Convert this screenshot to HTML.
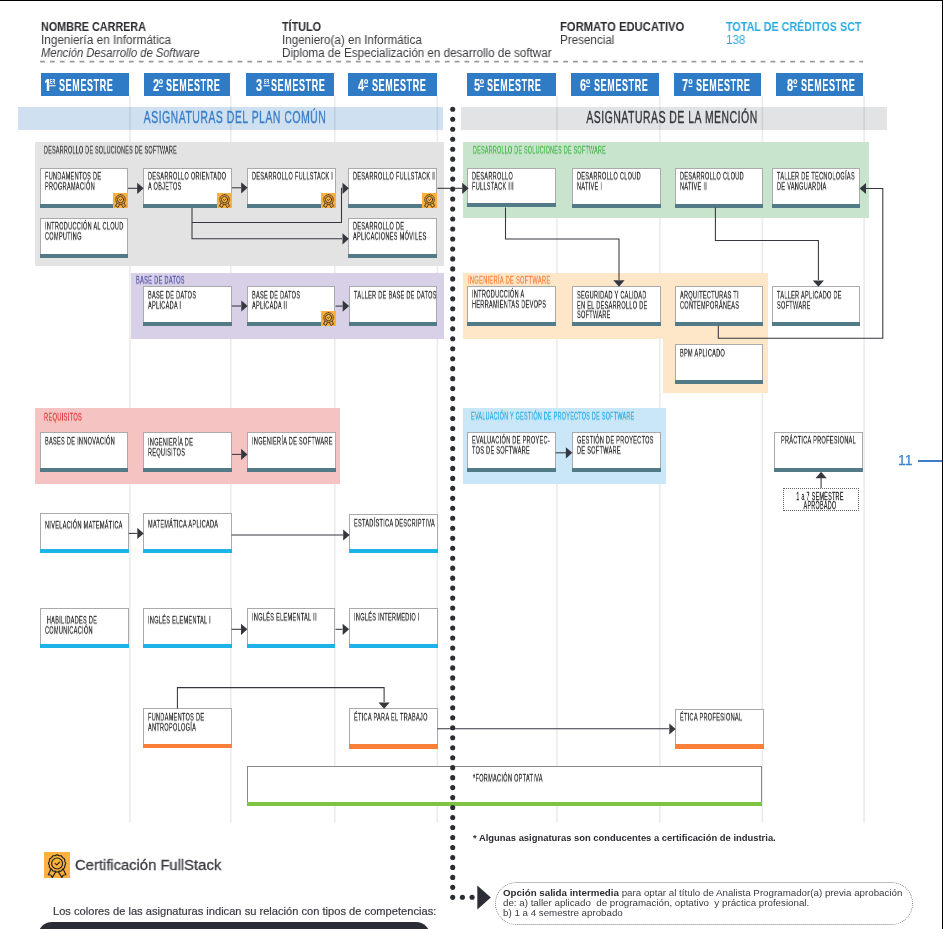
<!DOCTYPE html><html><head><meta charset="utf-8"><style>
html,body{margin:0;padding:0}
body{width:943px;height:929px;position:relative;overflow:hidden;background:#fff;font-family:"Liberation Sans",sans-serif}
.a{position:absolute}
.t{position:absolute;white-space:nowrap;transform-origin:0 0;will-change:transform}
.bx{box-sizing:border-box;border:1px solid #a3a5a8;background:#fff}
</style></head><body>
<div class="t" style="left:40.6px;top:20.14px;font-size:12px;line-height:14.4px;color:#2b2b30;font-weight:700;transform:scale(0.9,1.0);">NOMBRE CARRERA</div>
<div class="t" style="left:40.8px;top:33.14px;font-size:12px;line-height:14.4px;color:#3a3a3f;font-weight:400;transform:scale(0.98,1.0);">Ingeniería en Informática</div>
<div class="t" style="left:40.8px;top:46.14px;font-size:12px;line-height:14.4px;color:#3a3a3f;font-weight:400;transform:scale(0.93,1.0);font-style:italic;">Mención Desarrollo de Software</div>
<div class="t" style="left:282.1px;top:20.14px;font-size:12px;line-height:14.4px;color:#2b2b30;font-weight:700;transform:scale(0.9,1.0);">TÍTULO</div>
<div class="t" style="left:281.8px;top:33.14px;font-size:12px;line-height:14.4px;color:#3a3a3f;font-weight:400;transform:scale(0.97,1.0);">Ingeniero(a) en Informática</div>
<div class="t" style="left:281.8px;top:46.14px;font-size:12px;line-height:14.4px;color:#3a3a3f;font-weight:400;transform:scale(0.969,1.0);">Diploma de Especialización en desarrollo de softwar</div>
<div class="t" style="left:559.8px;top:20.14px;font-size:12px;line-height:14.4px;color:#2b2b30;font-weight:700;transform:scale(0.937,1.0);">FORMATO EDUCATIVO</div>
<div class="t" style="left:559.8px;top:33.14px;font-size:12px;line-height:14.4px;color:#3a3a3f;font-weight:400;transform:scale(0.97,1.0);">Presencial</div>
<div class="t" style="left:726.3px;top:20.14px;font-size:12px;line-height:14.4px;color:#29abe2;font-weight:700;transform:scale(0.896,1.0);">TOTAL DE CRÉDITOS SCT</div>
<div class="t" style="left:726.3px;top:33.14px;font-size:12px;line-height:14.4px;color:#29abe2;font-weight:400;transform:scale(0.97,1.0);">138</div>
<svg class="a" style="left:0;top:0" width="943" height="70"><line x1="40.1" y1="61.6" x2="863" y2="61.6" stroke="#9a9a9a" stroke-width="1.8" stroke-dasharray="4.8 5.07"/></svg>
<div class="a" style="left:41px;top:73.2px;width:88px;height:22.4px;background:#2f7bc5;"></div>
<div class="a" style="left:143.6px;top:73.2px;width:86.6px;height:22.4px;background:#2f7bc5;"></div>
<div class="a" style="left:246.3px;top:73.2px;width:87.5px;height:22.4px;background:#2f7bc5;"></div>
<div class="a" style="left:348.3px;top:73.2px;width:88.7px;height:22.4px;background:#2f7bc5;"></div>
<div class="a" style="left:467px;top:73.2px;width:89.2px;height:22.4px;background:#2f7bc5;"></div>
<div class="a" style="left:571.1px;top:73.2px;width:87.7px;height:22.4px;background:#2f7bc5;"></div>
<div class="a" style="left:674px;top:73.2px;width:87px;height:22.4px;background:#2f7bc5;"></div>
<div class="a" style="left:776.3px;top:73.2px;width:86.8px;height:22.4px;background:#2f7bc5;"></div>
<div class="a" style="left:18px;top:107px;width:425px;height:23px;background:#cfe0f0;"></div>
<div class="a" style="left:461px;top:107px;width:425.5px;height:23px;background:#e1e3e4;"></div>
<div class="t" style="left:34.69999999999999px;top:107.43px;width:400px;text-align:center;font-size:17.4px;line-height:20.88px;color:#3b7fc8;font-weight:400;transform:scaleX(0.6);transform-origin:50% 0;letter-spacing:0.85px;-webkit-text-stroke:0.4px #3b7fc8;">ASIGNATURAS DEL PLAN COMÚN</div>
<div class="t" style="left:472.29999999999995px;top:107.43px;width:400px;text-align:center;font-size:17.4px;line-height:20.88px;color:#36383d;font-weight:400;transform:scaleX(0.6);transform-origin:50% 0;letter-spacing:0.85px;-webkit-text-stroke:0.4px #36383d;">ASIGNATURAS DE LA MENCIÓN</div>
<svg class="a" style="left:0;top:0" width="943" height="929"><g stroke="#000" stroke-opacity="0.075" stroke-width="1.7"><line x1="129.9" y1="95.5" x2="129.9" y2="822.7"/><line x1="230.8" y1="95.5" x2="230.8" y2="822.7"/><line x1="334.8" y1="95.5" x2="334.8" y2="822.7"/><line x1="437.4" y1="95.5" x2="437.4" y2="822.7"/><line x1="556.9" y1="95.5" x2="556.9" y2="822.7"/><line x1="659.8" y1="95.5" x2="659.8" y2="822.7"/><line x1="762.3" y1="95.5" x2="762.3" y2="822.7"/><line x1="864.1" y1="95.5" x2="864.1" y2="822.7"/></g></svg>
<div class="a" style="left:35px;top:142.2px;width:408.7px;height:124px;background:#e3e3e3;"></div>
<div class="a" style="left:463px;top:142.2px;width:405.5px;height:75.8px;background:#c8e4cd;"></div>
<div class="a" style="left:130.5px;top:273px;width:313.2px;height:65.6px;background:#d8d0e6;"></div>
<div class="a" style="left:463px;top:273px;width:305.3px;height:65.6px;background:#fee6c8;"></div>
<div class="a" style="left:663px;top:338.6px;width:105.3px;height:54.4px;background:#fee6c8;"></div>
<div class="a" style="left:35px;top:407.6px;width:305px;height:76.2px;background:#f5c4c2;"></div>
<div class="a" style="left:463px;top:407.6px;width:202.8px;height:76.2px;background:#c9e7f7;"></div>
<div class="t" style="left:59.0px;top:76.09px;font-size:16.6px;line-height:19.92px;color:#fff;font-weight:700;transform:scale(0.546,1.0);letter-spacing:1.05px;-webkit-text-stroke:0.15px #fff;">SEMESTRE</div>
<div class="t" style="left:50.1px;top:77.60px;font-size:7.4px;line-height:8.88px;color:#fff;font-weight:700;transform:scale(0.48,1.0);letter-spacing:0.3px;">ER</div>
<div class="t" style="left:152.6px;top:76.09px;font-size:16.6px;line-height:19.92px;color:#fff;font-weight:700;transform:scale(0.66,1.0);letter-spacing:1.05px;-webkit-text-stroke:0.15px #fff;">2</div>
<div class="t" style="left:166.3px;top:76.09px;font-size:16.6px;line-height:19.92px;color:#fff;font-weight:700;transform:scale(0.546,1.0);letter-spacing:1.05px;-webkit-text-stroke:0.15px #fff;">SEMESTRE</div>
<div class="t" style="left:255.9px;top:76.09px;font-size:16.6px;line-height:19.92px;color:#fff;font-weight:700;transform:scale(0.66,1.0);letter-spacing:1.05px;-webkit-text-stroke:0.15px #fff;">3</div>
<div class="t" style="left:271.40000000000003px;top:76.09px;font-size:16.6px;line-height:19.92px;color:#fff;font-weight:700;transform:scale(0.546,1.0);letter-spacing:1.05px;-webkit-text-stroke:0.15px #fff;">SEMESTRE</div>
<div class="t" style="left:264.2px;top:77.60px;font-size:7.4px;line-height:8.88px;color:#fff;font-weight:700;transform:scale(0.48,1.0);letter-spacing:0.3px;">ER</div>
<div class="t" style="left:357.79999999999995px;top:76.09px;font-size:16.6px;line-height:19.92px;color:#fff;font-weight:700;transform:scale(0.66,1.0);letter-spacing:1.05px;-webkit-text-stroke:0.15px #fff;">4</div>
<div class="t" style="left:372.1px;top:76.09px;font-size:16.6px;line-height:19.92px;color:#fff;font-weight:700;transform:scale(0.546,1.0);letter-spacing:1.05px;-webkit-text-stroke:0.15px #fff;">SEMESTRE</div>
<div class="t" style="left:473.59999999999997px;top:76.09px;font-size:16.6px;line-height:19.92px;color:#fff;font-weight:700;transform:scale(0.66,1.0);letter-spacing:1.05px;-webkit-text-stroke:0.15px #fff;">5</div>
<div class="t" style="left:487.40000000000003px;top:76.09px;font-size:16.6px;line-height:19.92px;color:#fff;font-weight:700;transform:scale(0.546,1.0);letter-spacing:1.05px;-webkit-text-stroke:0.15px #fff;">SEMESTRE</div>
<div class="t" style="left:579.8px;top:76.09px;font-size:16.6px;line-height:19.92px;color:#fff;font-weight:700;transform:scale(0.66,1.0);letter-spacing:1.05px;-webkit-text-stroke:0.15px #fff;">6</div>
<div class="t" style="left:593.8px;top:76.09px;font-size:16.6px;line-height:19.92px;color:#fff;font-weight:700;transform:scale(0.546,1.0);letter-spacing:1.05px;-webkit-text-stroke:0.15px #fff;">SEMESTRE</div>
<div class="t" style="left:682.1999999999999px;top:76.09px;font-size:16.6px;line-height:19.92px;color:#fff;font-weight:700;transform:scale(0.66,1.0);letter-spacing:1.05px;-webkit-text-stroke:0.15px #fff;">7</div>
<div class="t" style="left:695.8px;top:76.09px;font-size:16.6px;line-height:19.92px;color:#fff;font-weight:700;transform:scale(0.546,1.0);letter-spacing:1.05px;-webkit-text-stroke:0.15px #fff;">SEMESTRE</div>
<div class="t" style="left:787.0px;top:76.09px;font-size:16.6px;line-height:19.92px;color:#fff;font-weight:700;transform:scale(0.66,1.0);letter-spacing:1.05px;-webkit-text-stroke:0.15px #fff;">8</div>
<div class="t" style="left:800.8px;top:76.09px;font-size:16.6px;line-height:19.92px;color:#fff;font-weight:700;transform:scale(0.546,1.0);letter-spacing:1.05px;-webkit-text-stroke:0.15px #fff;">SEMESTRE</div>
<svg class="a" style="left:0;top:0" width="943" height="100"><path d="M44.9 81.3L47.0 79H49.199999999999996V90.9H46.8V82L45.6 83.2Z" fill="#fff"/><rect x="49.4" y="85.2" width="6.2" height="1.1" fill="#fff"/><ellipse cx="160.89999999999998" cy="81.5" rx="1.45" ry="1.95" fill="none" stroke="#fff" stroke-width="1.2"/><rect x="158.99999999999997" y="85.8" width="3.8" height="1.25" fill="#fff"/><rect x="263.5" y="85.2" width="6.2" height="1.1" fill="#fff"/><ellipse cx="366.09999999999997" cy="81.5" rx="1.45" ry="1.95" fill="none" stroke="#fff" stroke-width="1.2"/><rect x="364.2" y="85.8" width="3.8" height="1.25" fill="#fff"/><ellipse cx="481.9" cy="81.5" rx="1.45" ry="1.95" fill="none" stroke="#fff" stroke-width="1.2"/><rect x="480.0" y="85.8" width="3.8" height="1.25" fill="#fff"/><ellipse cx="588.1" cy="81.5" rx="1.45" ry="1.95" fill="none" stroke="#fff" stroke-width="1.2"/><rect x="586.2" y="85.8" width="3.8" height="1.25" fill="#fff"/><ellipse cx="690.5" cy="81.5" rx="1.45" ry="1.95" fill="none" stroke="#fff" stroke-width="1.2"/><rect x="688.6" y="85.8" width="3.8" height="1.25" fill="#fff"/><ellipse cx="795.3000000000001" cy="81.5" rx="1.45" ry="1.95" fill="none" stroke="#fff" stroke-width="1.2"/><rect x="793.4000000000001" y="85.8" width="3.8" height="1.25" fill="#fff"/></svg>
<div class="t" style="left:44.4px;top:144.27px;font-size:10.6px;line-height:12.72px;color:#3a3a3a;font-weight:400;transform:scale(0.503,0.95);letter-spacing:0.6px;-webkit-text-stroke:0.3px #3a3a3a;">DESARROLLO DE SOLUCIONES DE SOFTWARE</div>
<div class="t" style="left:472.5px;top:144.27px;font-size:10.6px;line-height:12.72px;color:#46b649;font-weight:400;transform:scale(0.503,0.95);letter-spacing:0.6px;-webkit-text-stroke:0.3px #46b649;">DESARROLLO DE SOLUCIONES DE SOFTWARE</div>
<div class="t" style="left:136px;top:274.47px;font-size:10.6px;line-height:12.72px;color:#5152a6;font-weight:400;transform:scale(0.53,0.95);letter-spacing:0.6px;-webkit-text-stroke:0.3px #5152a6;">BASE DE DATOS</div>
<div class="t" style="left:468.4px;top:274.47px;font-size:10.6px;line-height:12.72px;color:#f5813f;font-weight:400;transform:scale(0.535,0.95);letter-spacing:0.6px;-webkit-text-stroke:0.3px #f5813f;">INGENIERÍA DE SOFTWARE</div>
<div class="t" style="left:44.3px;top:410.87px;font-size:10.6px;line-height:12.72px;color:#e3373a;font-weight:400;transform:scale(0.535,0.95);letter-spacing:0.6px;-webkit-text-stroke:0.3px #e3373a;">REQUISITOS</div>
<div class="t" style="left:470.7px;top:410.37px;font-size:10.6px;line-height:12.72px;color:#27aae1;font-weight:400;transform:scale(0.508,0.95);letter-spacing:0.6px;-webkit-text-stroke:0.3px #27aae1;">EVALUACIÓN Y GESTIÓN DE PROYECTOS DE SOFTWARE</div>
<div class="a bx" style="left:39.5px;top:168px;width:88.5px;height:40px;border-color:#a8aaad"></div>
<div class="a" style="left:39.5px;top:204px;width:88.5px;height:4px;background:#527b87;"></div>
<div class="t" style="left:44.5px;top:172.30px;font-size:10px;line-height:10.7px;color:#2a2a2a;font-weight:400;transform:scale(0.552,0.93);letter-spacing:0.6px;-webkit-text-stroke:0.3px #2a2a2a;">FUNDAMENTOS DE<br>PROGRAMACIÓN</div>
<svg class="a" style="left:113.0px;top:193px" width="15" height="15" viewBox="0 0 26 26"><rect width="26" height="26" fill="#fbb040"/><g fill="none" stroke="#1d1d1b" stroke-width="1.35" stroke-linejoin="round" stroke-linecap="round"><path d="M13.10,2.82 L13.69,2.93 L14.25,3.21 L14.78,3.50 L15.31,3.68 L15.89,3.73 L16.51,3.74 L17.12,3.85 L17.63,4.14 L18.03,4.62 L18.35,5.15 L18.68,5.63 L19.10,6.00 L19.62,6.31 L20.14,6.65 L20.53,7.11 L20.73,7.68 L20.77,8.30 L20.78,8.91 L20.89,9.46 L21.14,9.98 L21.44,10.52 L21.65,11.10 L21.65,11.70 L21.44,12.28 L21.14,12.82 L20.89,13.34 L20.78,13.89 L20.77,14.50 L20.73,15.12 L20.53,15.69 L20.14,16.15 L19.62,16.49 L19.10,16.80 L18.68,17.17 L18.35,17.65 L18.03,18.18 L17.63,18.66 L17.12,18.95 L16.51,19.06 L15.89,19.07 L15.31,19.12 L14.78,19.30 L14.25,19.59 L13.69,19.87 L13.10,19.98 L12.51,19.87 L11.95,19.59 L11.42,19.30 L10.89,19.12 L10.31,19.07 L9.69,19.06 L9.08,18.95 L8.57,18.66 L8.17,18.18 L7.85,17.65 L7.52,17.17 L7.10,16.80 L6.58,16.49 L6.06,16.15 L5.67,15.69 L5.47,15.12 L5.43,14.50 L5.42,13.89 L5.31,13.34 L5.06,12.82 L4.76,12.28 L4.55,11.70 L4.55,11.10 L4.76,10.52 L5.06,9.98 L5.31,9.46 L5.42,8.91 L5.43,8.30 L5.47,7.68 L5.67,7.11 L6.06,6.65 L6.58,6.31 L7.10,6.00 L7.52,5.63 L7.85,5.15 L8.17,4.62 L8.57,4.14 L9.08,3.85 L9.69,3.74 L10.31,3.73 L10.89,3.68 L11.42,3.50 L11.95,3.21 L12.51,2.93Z"/><circle cx="13.1" cy="11.5" r="5.5"/><path d="M11.2 11.6l1.55 1.3 2.85-2.8"/><path d="M6.8 17.6L4.3 22.7L6.7 23L8.3 25.4L11.6 20.1"/><path d="M19.4 17.6L21.9 22.7L19.5 23L17.9 25.4L14.6 20.1"/></g></svg>
<div class="a bx" style="left:143px;top:167.6px;width:89px;height:40.2px;border-color:#a8aaad"></div>
<div class="a" style="left:143px;top:203.8px;width:89px;height:4px;background:#527b87;"></div>
<div class="t" style="left:148px;top:171.90px;font-size:10px;line-height:10.7px;color:#2a2a2a;font-weight:400;transform:scale(0.552,0.93);letter-spacing:0.6px;-webkit-text-stroke:0.3px #2a2a2a;">DESARROLLO ORIENTADO<br>A OBJETOS</div>
<svg class="a" style="left:217px;top:192.8px" width="15" height="15" viewBox="0 0 26 26"><rect width="26" height="26" fill="#fbb040"/><g fill="none" stroke="#1d1d1b" stroke-width="1.35" stroke-linejoin="round" stroke-linecap="round"><path d="M13.10,2.82 L13.69,2.93 L14.25,3.21 L14.78,3.50 L15.31,3.68 L15.89,3.73 L16.51,3.74 L17.12,3.85 L17.63,4.14 L18.03,4.62 L18.35,5.15 L18.68,5.63 L19.10,6.00 L19.62,6.31 L20.14,6.65 L20.53,7.11 L20.73,7.68 L20.77,8.30 L20.78,8.91 L20.89,9.46 L21.14,9.98 L21.44,10.52 L21.65,11.10 L21.65,11.70 L21.44,12.28 L21.14,12.82 L20.89,13.34 L20.78,13.89 L20.77,14.50 L20.73,15.12 L20.53,15.69 L20.14,16.15 L19.62,16.49 L19.10,16.80 L18.68,17.17 L18.35,17.65 L18.03,18.18 L17.63,18.66 L17.12,18.95 L16.51,19.06 L15.89,19.07 L15.31,19.12 L14.78,19.30 L14.25,19.59 L13.69,19.87 L13.10,19.98 L12.51,19.87 L11.95,19.59 L11.42,19.30 L10.89,19.12 L10.31,19.07 L9.69,19.06 L9.08,18.95 L8.57,18.66 L8.17,18.18 L7.85,17.65 L7.52,17.17 L7.10,16.80 L6.58,16.49 L6.06,16.15 L5.67,15.69 L5.47,15.12 L5.43,14.50 L5.42,13.89 L5.31,13.34 L5.06,12.82 L4.76,12.28 L4.55,11.70 L4.55,11.10 L4.76,10.52 L5.06,9.98 L5.31,9.46 L5.42,8.91 L5.43,8.30 L5.47,7.68 L5.67,7.11 L6.06,6.65 L6.58,6.31 L7.10,6.00 L7.52,5.63 L7.85,5.15 L8.17,4.62 L8.57,4.14 L9.08,3.85 L9.69,3.74 L10.31,3.73 L10.89,3.68 L11.42,3.50 L11.95,3.21 L12.51,2.93Z"/><circle cx="13.1" cy="11.5" r="5.5"/><path d="M11.2 11.6l1.55 1.3 2.85-2.8"/><path d="M6.8 17.6L4.3 22.7L6.7 23L8.3 25.4L11.6 20.1"/><path d="M19.4 17.6L21.9 22.7L19.5 23L17.9 25.4L14.6 20.1"/></g></svg>
<div class="a bx" style="left:247px;top:167.6px;width:88.5px;height:40.2px;border-color:#a8aaad"></div>
<div class="a" style="left:247px;top:203.8px;width:88.5px;height:4px;background:#527b87;"></div>
<div class="t" style="left:252px;top:171.90px;font-size:10px;line-height:10.7px;color:#2a2a2a;font-weight:400;transform:scale(0.552,0.93);letter-spacing:0.6px;-webkit-text-stroke:0.3px #2a2a2a;">DESARROLLO FULLSTACK I</div>
<svg class="a" style="left:320.5px;top:192.8px" width="15" height="15" viewBox="0 0 26 26"><rect width="26" height="26" fill="#fbb040"/><g fill="none" stroke="#1d1d1b" stroke-width="1.35" stroke-linejoin="round" stroke-linecap="round"><path d="M13.10,2.82 L13.69,2.93 L14.25,3.21 L14.78,3.50 L15.31,3.68 L15.89,3.73 L16.51,3.74 L17.12,3.85 L17.63,4.14 L18.03,4.62 L18.35,5.15 L18.68,5.63 L19.10,6.00 L19.62,6.31 L20.14,6.65 L20.53,7.11 L20.73,7.68 L20.77,8.30 L20.78,8.91 L20.89,9.46 L21.14,9.98 L21.44,10.52 L21.65,11.10 L21.65,11.70 L21.44,12.28 L21.14,12.82 L20.89,13.34 L20.78,13.89 L20.77,14.50 L20.73,15.12 L20.53,15.69 L20.14,16.15 L19.62,16.49 L19.10,16.80 L18.68,17.17 L18.35,17.65 L18.03,18.18 L17.63,18.66 L17.12,18.95 L16.51,19.06 L15.89,19.07 L15.31,19.12 L14.78,19.30 L14.25,19.59 L13.69,19.87 L13.10,19.98 L12.51,19.87 L11.95,19.59 L11.42,19.30 L10.89,19.12 L10.31,19.07 L9.69,19.06 L9.08,18.95 L8.57,18.66 L8.17,18.18 L7.85,17.65 L7.52,17.17 L7.10,16.80 L6.58,16.49 L6.06,16.15 L5.67,15.69 L5.47,15.12 L5.43,14.50 L5.42,13.89 L5.31,13.34 L5.06,12.82 L4.76,12.28 L4.55,11.70 L4.55,11.10 L4.76,10.52 L5.06,9.98 L5.31,9.46 L5.42,8.91 L5.43,8.30 L5.47,7.68 L5.67,7.11 L6.06,6.65 L6.58,6.31 L7.10,6.00 L7.52,5.63 L7.85,5.15 L8.17,4.62 L8.57,4.14 L9.08,3.85 L9.69,3.74 L10.31,3.73 L10.89,3.68 L11.42,3.50 L11.95,3.21 L12.51,2.93Z"/><circle cx="13.1" cy="11.5" r="5.5"/><path d="M11.2 11.6l1.55 1.3 2.85-2.8"/><path d="M6.8 17.6L4.3 22.7L6.7 23L8.3 25.4L11.6 20.1"/><path d="M19.4 17.6L21.9 22.7L19.5 23L17.9 25.4L14.6 20.1"/></g></svg>
<div class="a bx" style="left:348.3px;top:167.6px;width:89.1px;height:40.2px;border-color:#a8aaad"></div>
<div class="a" style="left:348.3px;top:203.8px;width:89.1px;height:4px;background:#527b87;"></div>
<div class="t" style="left:353.3px;top:171.90px;font-size:10px;line-height:10.7px;color:#2a2a2a;font-weight:400;transform:scale(0.552,0.93);letter-spacing:0.6px;-webkit-text-stroke:0.3px #2a2a2a;">DESARROLLO FULLSTACK II</div>
<svg class="a" style="left:422.4px;top:192.8px" width="15" height="15" viewBox="0 0 26 26"><rect width="26" height="26" fill="#fbb040"/><g fill="none" stroke="#1d1d1b" stroke-width="1.35" stroke-linejoin="round" stroke-linecap="round"><path d="M13.10,2.82 L13.69,2.93 L14.25,3.21 L14.78,3.50 L15.31,3.68 L15.89,3.73 L16.51,3.74 L17.12,3.85 L17.63,4.14 L18.03,4.62 L18.35,5.15 L18.68,5.63 L19.10,6.00 L19.62,6.31 L20.14,6.65 L20.53,7.11 L20.73,7.68 L20.77,8.30 L20.78,8.91 L20.89,9.46 L21.14,9.98 L21.44,10.52 L21.65,11.10 L21.65,11.70 L21.44,12.28 L21.14,12.82 L20.89,13.34 L20.78,13.89 L20.77,14.50 L20.73,15.12 L20.53,15.69 L20.14,16.15 L19.62,16.49 L19.10,16.80 L18.68,17.17 L18.35,17.65 L18.03,18.18 L17.63,18.66 L17.12,18.95 L16.51,19.06 L15.89,19.07 L15.31,19.12 L14.78,19.30 L14.25,19.59 L13.69,19.87 L13.10,19.98 L12.51,19.87 L11.95,19.59 L11.42,19.30 L10.89,19.12 L10.31,19.07 L9.69,19.06 L9.08,18.95 L8.57,18.66 L8.17,18.18 L7.85,17.65 L7.52,17.17 L7.10,16.80 L6.58,16.49 L6.06,16.15 L5.67,15.69 L5.47,15.12 L5.43,14.50 L5.42,13.89 L5.31,13.34 L5.06,12.82 L4.76,12.28 L4.55,11.70 L4.55,11.10 L4.76,10.52 L5.06,9.98 L5.31,9.46 L5.42,8.91 L5.43,8.30 L5.47,7.68 L5.67,7.11 L6.06,6.65 L6.58,6.31 L7.10,6.00 L7.52,5.63 L7.85,5.15 L8.17,4.62 L8.57,4.14 L9.08,3.85 L9.69,3.74 L10.31,3.73 L10.89,3.68 L11.42,3.50 L11.95,3.21 L12.51,2.93Z"/><circle cx="13.1" cy="11.5" r="5.5"/><path d="M11.2 11.6l1.55 1.3 2.85-2.8"/><path d="M6.8 17.6L4.3 22.7L6.7 23L8.3 25.4L11.6 20.1"/><path d="M19.4 17.6L21.9 22.7L19.5 23L17.9 25.4L14.6 20.1"/></g></svg>
<div class="a bx" style="left:39.8px;top:217.6px;width:88.7px;height:40.3px;border-color:#a8aaad"></div>
<div class="a" style="left:39.8px;top:253.89999999999998px;width:88.7px;height:4px;background:#527b87;"></div>
<div class="t" style="left:44.8px;top:221.90px;font-size:10px;line-height:10.7px;color:#2a2a2a;font-weight:400;transform:scale(0.552,0.93);letter-spacing:0.6px;-webkit-text-stroke:0.3px #2a2a2a;">INTRODUCCIÓN AL CLOUD<br>COMPUTING</div>
<div class="a bx" style="left:348.3px;top:217.7px;width:89.2px;height:40px;border-color:#a8aaad"></div>
<div class="a" style="left:348.3px;top:253.7px;width:89.2px;height:4px;background:#527b87;"></div>
<div class="t" style="left:353.3px;top:222.00px;font-size:10px;line-height:10.7px;color:#2a2a2a;font-weight:400;transform:scale(0.552,0.93);letter-spacing:0.6px;-webkit-text-stroke:0.3px #2a2a2a;">DESARROLLO DE<br>APLICACIONES MÓVILES</div>
<div class="a bx" style="left:467.3px;top:167.5px;width:88.3px;height:39.8px;border-color:#a8aaad"></div>
<div class="a" style="left:467.3px;top:203.3px;width:88.3px;height:4px;background:#527b87;"></div>
<div class="t" style="left:472.3px;top:171.80px;font-size:10px;line-height:10.7px;color:#2a2a2a;font-weight:400;transform:scale(0.552,0.93);letter-spacing:0.6px;-webkit-text-stroke:0.3px #2a2a2a;">DESARROLLO<br>FULLSTACK III</div>
<div class="a bx" style="left:572.3px;top:167.8px;width:88.3px;height:39.7px;border-color:#a8aaad"></div>
<div class="a" style="left:572.3px;top:203.5px;width:88.3px;height:4px;background:#527b87;"></div>
<div class="t" style="left:577.3px;top:172.10px;font-size:10px;line-height:10.7px;color:#2a2a2a;font-weight:400;transform:scale(0.552,0.93);letter-spacing:0.6px;-webkit-text-stroke:0.3px #2a2a2a;">DESARROLLO CLOUD<br>NATIVE I</div>
<div class="a bx" style="left:675.4px;top:167.8px;width:88px;height:39.7px;border-color:#a8aaad"></div>
<div class="a" style="left:675.4px;top:203.5px;width:88px;height:4px;background:#527b87;"></div>
<div class="t" style="left:680.4px;top:172.10px;font-size:10px;line-height:10.7px;color:#2a2a2a;font-weight:400;transform:scale(0.552,0.93);letter-spacing:0.6px;-webkit-text-stroke:0.3px #2a2a2a;">DESARROLLO CLOUD<br>NATIVE II</div>
<div class="a bx" style="left:771.5px;top:167.8px;width:88.7px;height:39.7px;border-color:#a8aaad"></div>
<div class="a" style="left:771.5px;top:203.5px;width:88.7px;height:4px;background:#527b87;"></div>
<div class="t" style="left:776.5px;top:172.10px;font-size:10px;line-height:10.7px;color:#2a2a2a;font-weight:400;transform:scale(0.552,0.93);letter-spacing:0.6px;-webkit-text-stroke:0.3px #2a2a2a;">TALLER DE TECNOLOGÍAS<br>DE VANGUARDIA</div>
<div class="a bx" style="left:143.1px;top:286.3px;width:88.7px;height:39.5px;border-color:#a8aaad"></div>
<div class="a" style="left:143.1px;top:321.8px;width:88.7px;height:4px;background:#527b87;"></div>
<div class="t" style="left:148.1px;top:290.60px;font-size:10px;line-height:10.7px;color:#2a2a2a;font-weight:400;transform:scale(0.552,0.93);letter-spacing:0.6px;-webkit-text-stroke:0.3px #2a2a2a;">BASE DE DATOS<br>APLICADA I</div>
<div class="a bx" style="left:247.1px;top:286.3px;width:88.4px;height:39.5px;border-color:#a8aaad"></div>
<div class="a" style="left:247.1px;top:321.8px;width:88.4px;height:4px;background:#527b87;"></div>
<div class="t" style="left:252.1px;top:290.60px;font-size:10px;line-height:10.7px;color:#2a2a2a;font-weight:400;transform:scale(0.552,0.93);letter-spacing:0.6px;-webkit-text-stroke:0.3px #2a2a2a;">BASE DE DATOS<br>APLICADA II</div>
<svg class="a" style="left:320.5px;top:310.8px" width="15" height="15" viewBox="0 0 26 26"><rect width="26" height="26" fill="#fbb040"/><g fill="none" stroke="#1d1d1b" stroke-width="1.35" stroke-linejoin="round" stroke-linecap="round"><path d="M13.10,2.82 L13.69,2.93 L14.25,3.21 L14.78,3.50 L15.31,3.68 L15.89,3.73 L16.51,3.74 L17.12,3.85 L17.63,4.14 L18.03,4.62 L18.35,5.15 L18.68,5.63 L19.10,6.00 L19.62,6.31 L20.14,6.65 L20.53,7.11 L20.73,7.68 L20.77,8.30 L20.78,8.91 L20.89,9.46 L21.14,9.98 L21.44,10.52 L21.65,11.10 L21.65,11.70 L21.44,12.28 L21.14,12.82 L20.89,13.34 L20.78,13.89 L20.77,14.50 L20.73,15.12 L20.53,15.69 L20.14,16.15 L19.62,16.49 L19.10,16.80 L18.68,17.17 L18.35,17.65 L18.03,18.18 L17.63,18.66 L17.12,18.95 L16.51,19.06 L15.89,19.07 L15.31,19.12 L14.78,19.30 L14.25,19.59 L13.69,19.87 L13.10,19.98 L12.51,19.87 L11.95,19.59 L11.42,19.30 L10.89,19.12 L10.31,19.07 L9.69,19.06 L9.08,18.95 L8.57,18.66 L8.17,18.18 L7.85,17.65 L7.52,17.17 L7.10,16.80 L6.58,16.49 L6.06,16.15 L5.67,15.69 L5.47,15.12 L5.43,14.50 L5.42,13.89 L5.31,13.34 L5.06,12.82 L4.76,12.28 L4.55,11.70 L4.55,11.10 L4.76,10.52 L5.06,9.98 L5.31,9.46 L5.42,8.91 L5.43,8.30 L5.47,7.68 L5.67,7.11 L6.06,6.65 L6.58,6.31 L7.10,6.00 L7.52,5.63 L7.85,5.15 L8.17,4.62 L8.57,4.14 L9.08,3.85 L9.69,3.74 L10.31,3.73 L10.89,3.68 L11.42,3.50 L11.95,3.21 L12.51,2.93Z"/><circle cx="13.1" cy="11.5" r="5.5"/><path d="M11.2 11.6l1.55 1.3 2.85-2.8"/><path d="M6.8 17.6L4.3 22.7L6.7 23L8.3 25.4L11.6 20.1"/><path d="M19.4 17.6L21.9 22.7L19.5 23L17.9 25.4L14.6 20.1"/></g></svg>
<div class="a bx" style="left:348.5px;top:286.3px;width:88.3px;height:39.5px;border-color:#a8aaad"></div>
<div class="a" style="left:348.5px;top:321.8px;width:88.3px;height:4px;background:#527b87;"></div>
<div class="t" style="left:353.5px;top:290.60px;font-size:10px;line-height:10.7px;color:#2a2a2a;font-weight:400;transform:scale(0.552,0.93);letter-spacing:0.6px;-webkit-text-stroke:0.3px #2a2a2a;">TALLER DE BASE DE DATOS</div>
<div class="a bx" style="left:467.3px;top:285.7px;width:88.3px;height:40.1px;border-color:#a8aaad"></div>
<div class="a" style="left:467.3px;top:321.8px;width:88.3px;height:4px;background:#527b87;"></div>
<div class="t" style="left:472.3px;top:290.00px;font-size:10px;line-height:10.7px;color:#2a2a2a;font-weight:400;transform:scale(0.552,0.93);letter-spacing:0.6px;-webkit-text-stroke:0.3px #2a2a2a;">INTRODUCCIÓN A<br>HERRAMIENTAS DEVOPS</div>
<div class="a bx" style="left:572.3px;top:286.3px;width:88.3px;height:39.5px;border-color:#a8aaad"></div>
<div class="a" style="left:572.3px;top:321.8px;width:88.3px;height:4px;background:#527b87;"></div>
<div class="t" style="left:577.3px;top:290.60px;font-size:10px;line-height:10.7px;color:#2a2a2a;font-weight:400;transform:scale(0.552,0.93);letter-spacing:0.6px;-webkit-text-stroke:0.3px #2a2a2a;">SEGURIDAD Y CALIDAD<br>EN EL DESARROLLO DE<br>SOFTWARE</div>
<div class="a bx" style="left:675.4px;top:286.3px;width:88px;height:39.5px;border-color:#a8aaad"></div>
<div class="a" style="left:675.4px;top:321.8px;width:88px;height:4px;background:#527b87;"></div>
<div class="t" style="left:680.4px;top:290.60px;font-size:10px;line-height:10.7px;color:#2a2a2a;font-weight:400;transform:scale(0.552,0.93);letter-spacing:0.6px;-webkit-text-stroke:0.3px #2a2a2a;">ARQUITECTURAS TI<br>CONTEMPORÁNEAS</div>
<div class="a bx" style="left:771.5px;top:286.4px;width:88.7px;height:39.3px;border-color:#a8aaad"></div>
<div class="a" style="left:771.5px;top:321.7px;width:88.7px;height:4px;background:#527b87;"></div>
<div class="t" style="left:776.5px;top:290.70px;font-size:10px;line-height:10.7px;color:#2a2a2a;font-weight:400;transform:scale(0.552,0.93);letter-spacing:0.6px;-webkit-text-stroke:0.3px #2a2a2a;">TALLER APLICADO DE<br>SOFTWARE</div>
<div class="a bx" style="left:675.4px;top:344.3px;width:88px;height:39.7px;border-color:#a8aaad"></div>
<div class="a" style="left:675.4px;top:380.0px;width:88px;height:4px;background:#527b87;"></div>
<div class="t" style="left:680.4px;top:348.60px;font-size:10px;line-height:10.7px;color:#2a2a2a;font-weight:400;transform:scale(0.552,0.93);letter-spacing:0.6px;-webkit-text-stroke:0.3px #2a2a2a;">BPM APLICADO</div>
<div class="a bx" style="left:39.9px;top:432.4px;width:88.4px;height:39.4px;border-color:#a8aaad"></div>
<div class="a" style="left:39.9px;top:467.79999999999995px;width:88.4px;height:4px;background:#527b87;"></div>
<div class="t" style="left:44.9px;top:436.70px;font-size:10px;line-height:10.7px;color:#2a2a2a;font-weight:400;transform:scale(0.552,0.93);letter-spacing:0.6px;-webkit-text-stroke:0.3px #2a2a2a;">BASES DE INNOVACIÓN</div>
<div class="a bx" style="left:143.2px;top:432.4px;width:88.7px;height:39.4px;border-color:#a8aaad"></div>
<div class="a" style="left:143.2px;top:467.79999999999995px;width:88.7px;height:4px;background:#527b87;"></div>
<div class="t" style="left:148.2px;top:438.30px;font-size:10px;line-height:10.7px;color:#2a2a2a;font-weight:400;transform:scale(0.552,0.93);letter-spacing:0.6px;-webkit-text-stroke:0.3px #2a2a2a;">INGENIERÍA DE<br>REQUISITOS</div>
<div class="a bx" style="left:246.9px;top:432.4px;width:88.7px;height:39.7px;border-color:#a8aaad"></div>
<div class="a" style="left:246.9px;top:468.09999999999997px;width:88.7px;height:4px;background:#527b87;"></div>
<div class="t" style="left:251.9px;top:436.70px;font-size:10px;line-height:10.7px;color:#2a2a2a;font-weight:400;transform:scale(0.552,0.93);letter-spacing:0.6px;-webkit-text-stroke:0.3px #2a2a2a;">INGENIERÍA DE SOFTWARE</div>
<div class="a bx" style="left:467.3px;top:431.9px;width:88.3px;height:39.7px;border-color:#a8aaad"></div>
<div class="a" style="left:467.3px;top:467.59999999999997px;width:88.3px;height:4px;background:#527b87;"></div>
<div class="t" style="left:472.3px;top:436.20px;font-size:10px;line-height:10.7px;color:#2a2a2a;font-weight:400;transform:scale(0.552,0.93);letter-spacing:0.6px;-webkit-text-stroke:0.3px #2a2a2a;">EVALUACIÓN DE PROYEC-<br>TOS DE SOFTWARE</div>
<div class="a bx" style="left:571.7px;top:431.9px;width:88.9px;height:39.7px;border-color:#a8aaad"></div>
<div class="a" style="left:571.7px;top:467.59999999999997px;width:88.9px;height:4px;background:#527b87;"></div>
<div class="t" style="left:576.7px;top:436.20px;font-size:10px;line-height:10.7px;color:#2a2a2a;font-weight:400;transform:scale(0.552,0.93);letter-spacing:0.6px;-webkit-text-stroke:0.3px #2a2a2a;">GESTIÓN DE PROYECTOS<br>DE SOFTWARE</div>
<div class="a bx" style="left:774px;top:431.6px;width:88.9px;height:40.2px;border-color:#a8aaad"></div>
<div class="a" style="left:774px;top:467.8px;width:88.9px;height:4px;background:#527b87;"></div>
<div class="t" style="left:780.8px;top:435.90px;font-size:10px;line-height:10.7px;color:#2a2a2a;font-weight:400;transform:scale(0.552,0.93);letter-spacing:0.6px;-webkit-text-stroke:0.3px #2a2a2a;">PRÁCTICA PROFESIONAL</div>
<div class="a bx" style="left:39.6px;top:513.4px;width:89.1px;height:39.6px;border-color:#a8aaad"></div>
<div class="a" style="left:39.6px;top:549.0px;width:89.1px;height:4px;background:#1cb4e8;"></div>
<div class="t" style="left:44.6px;top:520.60px;font-size:10px;line-height:10.7px;color:#2a2a2a;font-weight:400;transform:scale(0.552,0.93);letter-spacing:0.6px;-webkit-text-stroke:0.3px #2a2a2a;">NIVELACIÓN MATEMÁTICA</div>
<div class="a bx" style="left:143.1px;top:513.4px;width:88.5px;height:39.6px;border-color:#a8aaad"></div>
<div class="a" style="left:143.1px;top:549.0px;width:88.5px;height:4px;background:#1cb4e8;"></div>
<div class="t" style="left:148.1px;top:519.50px;font-size:10px;line-height:10.7px;color:#2a2a2a;font-weight:400;transform:scale(0.552,0.93);letter-spacing:0.6px;-webkit-text-stroke:0.3px #2a2a2a;">MATEMÁTICA APLICADA</div>
<div class="a bx" style="left:349px;top:513.5px;width:89.4px;height:39.7px;border-color:#a8aaad"></div>
<div class="a" style="left:349px;top:549.2px;width:89.4px;height:4px;background:#1cb4e8;"></div>
<div class="t" style="left:354px;top:518.70px;font-size:10px;line-height:10.7px;color:#2a2a2a;font-weight:400;transform:scale(0.552,0.93);letter-spacing:0.6px;-webkit-text-stroke:0.3px #2a2a2a;">ESTADÍSTICA DESCRIPTIVA</div>
<div class="a bx" style="left:39.6px;top:607.7px;width:89.1px;height:40.1px;border-color:#a8aaad"></div>
<div class="a" style="left:39.6px;top:643.8000000000001px;width:89.1px;height:4px;background:#1cb4e8;"></div>
<div class="t" style="left:44.6px;top:615.60px;font-size:10px;line-height:10.7px;color:#2a2a2a;font-weight:400;transform:scale(0.552,0.93);letter-spacing:0.6px;-webkit-text-stroke:0.3px #2a2a2a;">&nbsp;HABILIDADES DE<br>COMUNICACIÓN</div>
<div class="a bx" style="left:143.1px;top:607.7px;width:88.5px;height:40.1px;border-color:#a8aaad"></div>
<div class="a" style="left:143.1px;top:643.8000000000001px;width:88.5px;height:4px;background:#1cb4e8;"></div>
<div class="t" style="left:148.1px;top:615.60px;font-size:10px;line-height:10.7px;color:#2a2a2a;font-weight:400;transform:scale(0.552,0.93);letter-spacing:0.6px;-webkit-text-stroke:0.3px #2a2a2a;">INGLÉS ELEMENTAL I</div>
<div class="a bx" style="left:246.8px;top:607.8px;width:88.7px;height:39.7px;border-color:#a8aaad"></div>
<div class="a" style="left:246.8px;top:643.5px;width:88.7px;height:4px;background:#1cb4e8;"></div>
<div class="t" style="left:251.8px;top:612.50px;font-size:10px;line-height:10.7px;color:#2a2a2a;font-weight:400;transform:scale(0.552,0.93);letter-spacing:0.6px;-webkit-text-stroke:0.3px #2a2a2a;">INGLÉS ELEMENTAL II</div>
<div class="a bx" style="left:348.5px;top:607.8px;width:89.2px;height:39.7px;border-color:#a8aaad"></div>
<div class="a" style="left:348.5px;top:643.5px;width:89.2px;height:4px;background:#1cb4e8;"></div>
<div class="t" style="left:353.5px;top:612.50px;font-size:10px;line-height:10.7px;color:#2a2a2a;font-weight:400;transform:scale(0.552,0.93);letter-spacing:0.6px;-webkit-text-stroke:0.3px #2a2a2a;">INGLÉS INTERMEDIO I</div>
<div class="a bx" style="left:143px;top:708.4px;width:88.5px;height:40px;border-color:#a8aaad"></div>
<div class="a" style="left:143px;top:743.9px;width:88.5px;height:4.5px;background:#fa8039;"></div>
<div class="t" style="left:148px;top:712.70px;font-size:10px;line-height:10.7px;color:#2a2a2a;font-weight:400;transform:scale(0.552,0.93);letter-spacing:0.6px;-webkit-text-stroke:0.3px #2a2a2a;">FUNDAMENTOS DE<br>ANTROPOLOGÍA</div>
<div class="a bx" style="left:348.6px;top:708.4px;width:89px;height:40.9px;border-color:#a8aaad"></div>
<div class="a" style="left:348.6px;top:744.4px;width:89px;height:4.9px;background:#fa8039;"></div>
<div class="t" style="left:353.6px;top:712.70px;font-size:10px;line-height:10.7px;color:#2a2a2a;font-weight:400;transform:scale(0.552,0.93);letter-spacing:0.6px;-webkit-text-stroke:0.3px #2a2a2a;">ÉTICA PARA EL TRABAJO</div>
<div class="a bx" style="left:675.1px;top:708.6px;width:89.2px;height:40.3px;border-color:#a8aaad"></div>
<div class="a" style="left:675.1px;top:744.1px;width:89.2px;height:4.8px;background:#fa8039;"></div>
<div class="t" style="left:680.1px;top:712.90px;font-size:10px;line-height:10.7px;color:#2a2a2a;font-weight:400;transform:scale(0.552,0.93);letter-spacing:0.6px;-webkit-text-stroke:0.3px #2a2a2a;">ÉTICA PROFESIONAL</div>
<div class="a bx" style="left:246.8px;top:766.2px;width:515.7px;height:39.9px;border-color:#8a8a8a"></div>
<div class="a" style="left:246.8px;top:802.2px;width:515.7px;height:3.9px;background:#7fc343;"></div>
<div class="t" style="left:472.5px;top:774.00px;font-size:10px;line-height:10.7px;color:#2a2a2a;font-weight:400;transform:scale(0.552,0.93);letter-spacing:0.6px;-webkit-text-stroke:0.3px #2a2a2a;">*FORMACIÓN OPTATIVA</div>
<div class="a" style="left:782.9px;top:487.9px;width:76px;height:23.3px;box-sizing:border-box;border:1px dotted #666"></div>
<div class="t" style="left:620.2px;top:492.34px;width:400px;text-align:center;font-size:10px;line-height:9px;color:#2a2a2a;font-weight:400;transform:scaleX(0.535);transform-origin:50% 0;letter-spacing:0.6px;-webkit-text-stroke:0.3px #2a2a2a;">1 a 7 SEMESTRE<br>APROBADO</div>
<svg class="a" style="left:0;top:0" width="943" height="929"><polygon points="137.2,182.70000000000002 143.6,188.3 137.2,193.9" fill="#35373e"/><path d="M128 188.3H138" fill="none" stroke="#35373e" stroke-width="1.05"/><polygon points="241.2,182.20000000000002 247.6,187.8 241.2,193.4" fill="#35373e"/><path d="M232 187.8H241" fill="none" stroke="#35373e" stroke-width="1.05"/><path d="M192 208V238.7H342" fill="none" stroke="#35373e" stroke-width="1.05"/><path d="M192 222.5H341.5V188.3H342" fill="none" stroke="#35373e" stroke-width="1.05"/><polygon points="342.50000000000006,182.70000000000002 348.90000000000003,188.3 342.50000000000006,193.9" fill="#35373e"/><polygon points="342.50000000000006,233.20000000000002 348.90000000000003,238.8 342.50000000000006,244.4" fill="#35373e"/><path d="M437.4 188.3H462" fill="none" stroke="#35373e" stroke-width="1.05"/><polygon points="462.20000000000005,182.70000000000002 468.6,188.3 462.20000000000005,193.9" fill="#35373e"/><path d="M505.5 207.5V238.9H619V280" fill="none" stroke="#35373e" stroke-width="1.05"/><polygon points="613.4,280.3 619,286.7 624.6,280.3" fill="#35373e"/><path d="M715.4 207.5V240.4H818.4V280" fill="none" stroke="#35373e" stroke-width="1.05"/><polygon points="812.8,280.4 818.4,286.79999999999995 824.0,280.4" fill="#35373e"/><path d="M718.3 325.8V338.3H882.8V188.5H866" fill="none" stroke="#35373e" stroke-width="1.05"/><polygon points="866.0,182.9 859.6,188.5 866.0,194.1" fill="#35373e"/><path d="M231.8 306H241" fill="none" stroke="#35373e" stroke-width="1.05"/><polygon points="241.29999999999998,300.4 247.7,306 241.29999999999998,311.6" fill="#35373e"/><path d="M335.5 306.1H342.5" fill="none" stroke="#35373e" stroke-width="1.05"/><polygon points="342.70000000000005,300.5 349.1,306.1 342.70000000000005,311.70000000000005" fill="#35373e"/><path d="M231.9 454.4H241" fill="none" stroke="#35373e" stroke-width="1.05"/><polygon points="241.1,448.79999999999995 247.5,454.4 241.1,460.0" fill="#35373e"/><path d="M555.6 452.8H566" fill="none" stroke="#35373e" stroke-width="1.05"/><polygon points="565.9000000000001,447.2 572.3000000000001,452.8 565.9000000000001,458.40000000000003" fill="#35373e"/><path d="M821.1 487.9V478" fill="none" stroke="#35373e" stroke-width="1.05"/><polygon points="815.5,478.2 821.1,471.8 826.7,478.2" fill="#35373e"/><path d="M128.7 533.4H137" fill="none" stroke="#35373e" stroke-width="1.05"/><polygon points="137.29999999999998,527.8 143.7,533.4 137.29999999999998,539.0" fill="#35373e"/><path d="M231.6 535H343" fill="none" stroke="#35373e" stroke-width="1.05"/><polygon points="343.20000000000005,529.4 349.6,535 343.20000000000005,540.6" fill="#35373e"/><path d="M231.6 629.3H241" fill="none" stroke="#35373e" stroke-width="1.05"/><polygon points="241.0,623.6999999999999 247.4,629.3 241.0,634.9" fill="#35373e"/><path d="M335.5 629.3H342.5" fill="none" stroke="#35373e" stroke-width="1.05"/><polygon points="342.70000000000005,623.6999999999999 349.1,629.3 342.70000000000005,634.9" fill="#35373e"/><path d="M177.4 708.4V687.6H384.1V702" fill="none" stroke="#35373e" stroke-width="1.05"/><polygon points="378.5,702.4 384.1,708.8 389.70000000000005,702.4" fill="#35373e"/><path d="M437.3 728.8H669" fill="none" stroke="#35373e" stroke-width="1.05"/><polygon points="669.3000000000001,723.4 675.7,729 669.3000000000001,734.6" fill="#35373e"/></svg>
<svg class="a" style="left:0;top:0" width="943" height="929"><g fill="#2b2d35"><circle cx="452.7" cy="109.30" r="2.55"/><circle cx="452.7" cy="119.27" r="2.55"/><circle cx="452.7" cy="129.25" r="2.55"/><circle cx="452.7" cy="139.22" r="2.55"/><circle cx="452.7" cy="149.20" r="2.55"/><circle cx="452.7" cy="159.17" r="2.55"/><circle cx="452.7" cy="169.15" r="2.55"/><circle cx="452.7" cy="179.12" r="2.55"/><circle cx="452.7" cy="189.10" r="2.55"/><circle cx="452.7" cy="199.07" r="2.55"/><circle cx="452.7" cy="209.05" r="2.55"/><circle cx="452.7" cy="219.02" r="2.55"/><circle cx="452.7" cy="229.00" r="2.55"/><circle cx="452.7" cy="238.97" r="2.55"/><circle cx="452.7" cy="248.95" r="2.55"/><circle cx="452.7" cy="258.92" r="2.55"/><circle cx="452.7" cy="268.90" r="2.55"/><circle cx="452.7" cy="278.88" r="2.55"/><circle cx="452.7" cy="288.85" r="2.55"/><circle cx="452.7" cy="298.83" r="2.55"/><circle cx="452.7" cy="308.80" r="2.55"/><circle cx="452.7" cy="318.78" r="2.55"/><circle cx="452.7" cy="328.75" r="2.55"/><circle cx="452.7" cy="338.73" r="2.55"/><circle cx="452.7" cy="348.70" r="2.55"/><circle cx="452.7" cy="358.68" r="2.55"/><circle cx="452.7" cy="368.65" r="2.55"/><circle cx="452.7" cy="378.63" r="2.55"/><circle cx="452.7" cy="388.60" r="2.55"/><circle cx="452.7" cy="398.58" r="2.55"/><circle cx="452.7" cy="408.55" r="2.55"/><circle cx="452.7" cy="418.53" r="2.55"/><circle cx="452.7" cy="428.50" r="2.55"/><circle cx="452.7" cy="438.48" r="2.55"/><circle cx="452.7" cy="448.45" r="2.55"/><circle cx="452.7" cy="458.43" r="2.55"/><circle cx="452.7" cy="468.40" r="2.55"/><circle cx="452.7" cy="478.38" r="2.55"/><circle cx="452.7" cy="488.35" r="2.55"/><circle cx="452.7" cy="498.33" r="2.55"/><circle cx="452.7" cy="508.30" r="2.55"/><circle cx="452.7" cy="518.28" r="2.55"/><circle cx="452.7" cy="528.25" r="2.55"/><circle cx="452.7" cy="538.23" r="2.55"/><circle cx="452.7" cy="548.20" r="2.55"/><circle cx="452.7" cy="558.18" r="2.55"/><circle cx="452.7" cy="568.15" r="2.55"/><circle cx="452.7" cy="578.13" r="2.55"/><circle cx="452.7" cy="588.10" r="2.55"/><circle cx="452.7" cy="598.08" r="2.55"/><circle cx="452.7" cy="608.05" r="2.55"/><circle cx="452.7" cy="618.03" r="2.55"/><circle cx="452.7" cy="628.00" r="2.55"/><circle cx="452.7" cy="637.98" r="2.55"/><circle cx="452.7" cy="647.95" r="2.55"/><circle cx="452.7" cy="657.93" r="2.55"/><circle cx="452.7" cy="667.90" r="2.55"/><circle cx="452.7" cy="677.88" r="2.55"/><circle cx="452.7" cy="687.85" r="2.55"/><circle cx="452.7" cy="697.83" r="2.55"/><circle cx="452.7" cy="707.80" r="2.55"/><circle cx="452.7" cy="717.78" r="2.55"/><circle cx="452.7" cy="727.75" r="2.55"/><circle cx="452.7" cy="737.73" r="2.55"/><circle cx="452.7" cy="747.70" r="2.55"/><circle cx="452.7" cy="757.68" r="2.55"/><circle cx="452.7" cy="767.65" r="2.55"/><circle cx="452.7" cy="777.63" r="2.55"/><circle cx="452.7" cy="787.60" r="2.55"/><circle cx="452.7" cy="797.58" r="2.55"/><circle cx="452.7" cy="807.55" r="2.55"/><circle cx="452.7" cy="817.53" r="2.55"/><circle cx="452.7" cy="827.50" r="2.55"/><circle cx="452.7" cy="837.48" r="2.55"/><circle cx="452.7" cy="847.45" r="2.55"/><circle cx="452.7" cy="857.43" r="2.55"/><circle cx="452.7" cy="867.40" r="2.55"/><circle cx="452.7" cy="877.38" r="2.55"/><circle cx="452.7" cy="887.35" r="2.55"/><circle cx="452.7" cy="897.33" r="2.55"/><circle cx="462.4" cy="897.2" r="2.55"/><circle cx="472.1" cy="897.2" r="2.55"/><polygon points="477.3,885.5 490.8,897.5 477.3,909.6"/></g></svg>
<div class="t" style="left:898.3px;top:452.14px;font-size:13.9px;line-height:16.68px;color:#3d82ca;font-weight:400;transform:scale(0.97,1.0);-webkit-text-stroke:0.25px #3d82ca;">11</div>
<div class="a" style="left:918.2px;top:460.1px;width:24px;height:1.5px;background:#3b7fc8;"></div>
<div class="t" style="left:473px;top:832.10px;font-size:9.4px;line-height:11.28px;color:#2b2b30;font-weight:700;transform:scale(1.003,1.0);">* Algunas asignaturas son conducentes a certificación de industria.</div>
<svg class="a" style="left:44px;top:851.6px" width="26" height="26" viewBox="0 0 26 26"><rect width="26" height="26" fill="#fbb040"/><g fill="none" stroke="#1d1d1b" stroke-width="1.15" stroke-linejoin="round" stroke-linecap="round"><path d="M13.10,2.82 L13.69,2.93 L14.25,3.21 L14.78,3.50 L15.31,3.68 L15.89,3.73 L16.51,3.74 L17.12,3.85 L17.63,4.14 L18.03,4.62 L18.35,5.15 L18.68,5.63 L19.10,6.00 L19.62,6.31 L20.14,6.65 L20.53,7.11 L20.73,7.68 L20.77,8.30 L20.78,8.91 L20.89,9.46 L21.14,9.98 L21.44,10.52 L21.65,11.10 L21.65,11.70 L21.44,12.28 L21.14,12.82 L20.89,13.34 L20.78,13.89 L20.77,14.50 L20.73,15.12 L20.53,15.69 L20.14,16.15 L19.62,16.49 L19.10,16.80 L18.68,17.17 L18.35,17.65 L18.03,18.18 L17.63,18.66 L17.12,18.95 L16.51,19.06 L15.89,19.07 L15.31,19.12 L14.78,19.30 L14.25,19.59 L13.69,19.87 L13.10,19.98 L12.51,19.87 L11.95,19.59 L11.42,19.30 L10.89,19.12 L10.31,19.07 L9.69,19.06 L9.08,18.95 L8.57,18.66 L8.17,18.18 L7.85,17.65 L7.52,17.17 L7.10,16.80 L6.58,16.49 L6.06,16.15 L5.67,15.69 L5.47,15.12 L5.43,14.50 L5.42,13.89 L5.31,13.34 L5.06,12.82 L4.76,12.28 L4.55,11.70 L4.55,11.10 L4.76,10.52 L5.06,9.98 L5.31,9.46 L5.42,8.91 L5.43,8.30 L5.47,7.68 L5.67,7.11 L6.06,6.65 L6.58,6.31 L7.10,6.00 L7.52,5.63 L7.85,5.15 L8.17,4.62 L8.57,4.14 L9.08,3.85 L9.69,3.74 L10.31,3.73 L10.89,3.68 L11.42,3.50 L11.95,3.21 L12.51,2.93Z"/><circle cx="13.1" cy="11.5" r="5.5"/><path d="M11.2 11.6l1.55 1.3 2.85-2.8"/><path d="M6.8 17.6L4.3 22.7L6.7 23L8.3 25.4L11.6 20.1"/><path d="M19.4 17.6L21.9 22.7L19.5 23L17.9 25.4L14.6 20.1"/></g></svg>
<div class="t" style="left:74.6px;top:856.20px;font-size:15px;line-height:18.0px;color:#3a3b40;font-weight:400;transform:scale(0.985,1.0);-webkit-text-stroke:0.3px #3a3b40;">Certificación FullStack</div>
<div class="t" style="left:53.1px;top:905.09px;font-size:11px;line-height:13.2px;color:#3a3b40;font-weight:400;transform:scale(1.011,1.0);-webkit-text-stroke:0.2px #3a3b40;">Los colores de las asignaturas indican su relación con tipos de competencias:</div>
<div class="a" style="left:38px;top:921.8px;width:392px;height:40px;background:#2b2d35;border-radius:14px"></div>
<div class="a" style="left:494.6px;top:881.5px;width:418.8px;height:43.2px;box-sizing:border-box;border:1px dotted #808080;border-radius:22px"></div>
<div class="t" style="left:503.4px;top:887.85px;font-size:9.75px;line-height:10.15px;color:#3a3b40;font-weight:400;"><b style="color:#2b2b30">Opción salida intermedia</b> para optar al título de Analista Programador(a) previa aprobación<br>de: a) taller aplicado &nbsp;de programación, optativo &nbsp;y práctica profesional.<br>b) 1 a 4 semestre aprobado</div>
<div class="a" style="left:0px;top:0px;width:943px;height:1.3px;background:#000;"></div>
<div class="a" style="left:941.8px;top:0px;width:1.2px;height:929px;background:#000;"></div>
</body></html>
